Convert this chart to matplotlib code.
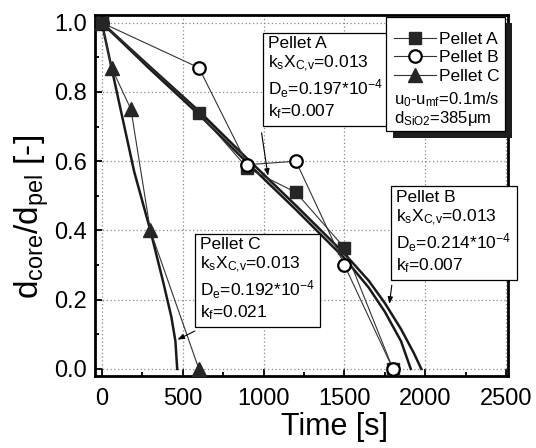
import matplotlib
matplotlib.use("Agg")
import matplotlib.pyplot as plt
from matplotlib.lines import Line2D
from matplotlib.patches import Rectangle
from matplotlib.ticker import MultipleLocator, FormatStrFormatter

plt.rcParams['font.family'] = ['Liberation Sans', 'DejaVu Sans']
plt.rcParams['mathtext.default'] = 'regular'

# ---- experimental data ----
time_A = [0, 600, 900, 1200, 1500, 1800]
core_A = [1.0, 0.74, 0.58, 0.51, 0.35, 0.0]
time_B = [0, 600, 900, 1200, 1500, 1800]
core_B = [1.0, 0.87, 0.59, 0.60, 0.30, 0.0]
time_C = [0, 60, 180, 300, 600]
core_C = [1.0, 0.87, 0.75, 0.40, 0.0]

# ---- model curves ----
model_A_t = [0, 300, 600, 900, 1200, 1500, 1650, 1750, 1850, 1910]
model_A_y = [1.0, 0.865, 0.735, 0.595, 0.46, 0.32, 0.235, 0.165, 0.08, 0.0]
model_B_t = [0, 300, 600, 900, 1200, 1500, 1650, 1750, 1850, 1930, 1975]
model_B_y = [1.0, 0.872, 0.745, 0.607, 0.472, 0.333, 0.255, 0.19, 0.115, 0.045, 0.0]
model_C_t = [0, 60, 130, 200, 300, 380, 430, 455, 466]
model_C_y = [1.0, 0.87, 0.72, 0.57, 0.40, 0.25, 0.15, 0.08, 0.0]

xticks = [0, 500, 1000, 1500, 2000, 2500]
yticks = [0.0, 0.2, 0.4, 0.6, 0.8, 1.0]

fig = plt.figure(figsize=(5.36, 4.48), dpi=100)
ax = fig.add_axes([0.177, 0.161, 0.771, 0.806])

mcol = '#262626'
# model curves
for t, y in [(model_A_t, model_A_y), (model_B_t, model_B_y), (model_C_t, model_C_y)]:
    ax.plot(t, y, color='#1a1a1a', lw=1.8, zorder=3)

# data lines
ax.plot(time_A, core_A, color='#333333', lw=0.8, marker='s', ms=9,
        mfc=mcol, mec=mcol, zorder=5)
ax.plot(time_B, core_B, color='#333333', lw=0.8, marker='o', ms=9,
        mfc='white', mec='black', mew=1.6, zorder=6)
ax.plot(time_C, core_C, color='#333333', lw=0.8, marker='^', ms=10,
        mfc=mcol, mec=mcol, zorder=5)
# redraw start square on top
ax.plot(time_A[:1], core_A[:1], ls='none', marker='s', ms=9, mfc=mcol, mec=mcol, zorder=7)

ax.set_xlim(-43, 2512)
ax.set_ylim(-0.02, 1.023)
ax.set_xticks(xticks)
ax.set_yticks(yticks)
ax.xaxis.set_minor_locator(MultipleLocator(250))
ax.yaxis.set_minor_locator(MultipleLocator(0.1))
ax.yaxis.set_major_formatter(FormatStrFormatter('%.1f'))
ax.tick_params(which='both', direction='in', labelsize=17, width=1.3)
ax.tick_params(which='major', length=5)
ax.tick_params(which='minor', length=3)
ax.tick_params(axis='x', pad=9)
ax.tick_params(axis='y', pad=6)
ax.grid(True, which='major', color='#888888', ls=(0, (1, 2)), lw=0.9)
for s in ax.spines.values():
    s.set_linewidth(2.0)

ax.set_xlabel('Time [s]', fontsize=22)
ax.xaxis.set_label_coords(0.58, -0.1)
ax.set_ylabel('d$_{core}$/d$_{pel}$ [-]', fontsize=24)
ax.yaxis.set_label_coords(-0.105, 0.44)

# annotation boxes
bbox = dict(boxstyle='square,pad=0.3', fc='white', ec='black', lw=0.9)
fs = 12.5
ax.text(1027, 0.961, 'Pellet A\nk$_s$X$_{C{,}v}$=0.013\nD$_e$=0.197*10$^{-4}$\nk$_f$=0.007',
        fontsize=fs, ha='left', va='top', bbox=bbox, linespacing=1.18, zorder=8)
ax.text(1819, 0.517, 'Pellet B\nk$_s$X$_{C{,}v}$=0.013\nD$_e$=0.214*10$^{-4}$\nk$_f$=0.007',
        fontsize=fs, ha='left', va='top', bbox=bbox, linespacing=1.18, zorder=8)
ax.text(606, 0.381, 'Pellet C\nk$_s$X$_{C{,}v}$=0.013\nD$_e$=0.192*10$^{-4}$\nk$_f$=0.021',
        fontsize=fs, ha='left', va='top', bbox=bbox, linespacing=1.18, zorder=8)

ap = dict(arrowstyle='-|>,head_length=0.4,head_width=0.15', color='black', lw=0.8)
ax.annotate('', xy=(1030, 0.55), xytext=(985, 0.69), arrowprops=ap, zorder=8)
ax.annotate('', xy=(1776, 0.18), xytext=(1795, 0.25), arrowprops=ap, zorder=8)
ax.annotate('', xy=(452, 0.081), xytext=(590, 0.113), arrowprops=ap, zorder=8)

# legend box with shadow
ax.add_patch(Rectangle((0.722, 0.66), 0.288, 0.317, transform=ax.transAxes,
                       fc='#1e1e1e', ec='none', zorder=9, clip_on=False))
ax.add_patch(Rectangle((0.705, 0.678), 0.288, 0.317, transform=ax.transAxes,
                       fc='white', ec='black', lw=0.9, zorder=10, clip_on=False))
handles = [
    Line2D([], [], color='#333333', lw=0.8, marker='s', ms=9, mfc=mcol, mec=mcol),
    Line2D([], [], color='#333333', lw=0.8, marker='o', ms=9, mfc='white', mec='black', mew=1.6),
    Line2D([], [], color='#333333', lw=0.8, marker='^', ms=10, mfc=mcol, mec=mcol),
]
lfs = 12.5
leg = ax.legend(handles, ['Pellet A', 'Pellet B', 'Pellet C'], loc='upper left',
                bbox_to_anchor=(0.712, 0.968), frameon=False, fontsize=lfs,
                handlelength=2.4, handletextpad=0.15, labelspacing=0.2,
                borderaxespad=0.0, borderpad=0.3)
leg.set_zorder(11)
ax.text(0.724, 0.765, 'u$_0$-u$_{mf}$=0.1m/s', transform=ax.transAxes, fontsize=lfs - 0.5,
        ha='left', va='center', zorder=11)
ax.text(0.724, 0.713, 'd$_{SiO2}$=385\u03bcm', transform=ax.transAxes, fontsize=lfs - 0.5,
        ha='left', va='center', zorder=11)

fig.savefig('out.png', dpi=100)
